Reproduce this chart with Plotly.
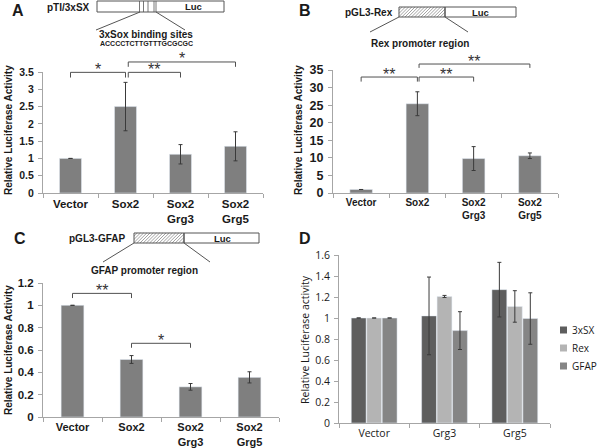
import plotly.graph_objects as go

W, H = 600, 448

# ---------------- data ----------------
cats_abc = ["Vector", "Sox2", "Sox2<br>Grg3", "Sox2<br>Grg5"]
a_vals = [1.0, 2.5, 1.12, 1.35]
a_err = [0.0, 0.70, 0.28, 0.42]
b_vals = [1.0, 25.4, 9.8, 10.6]
b_err = [0.0, 3.4, 3.4, 0.8]
c_vals = [1.0, 0.515, 0.27, 0.355]
c_err = [0.0, 0.035, 0.03, 0.05]

d_cats = ["Vector", "Grg3", "Grg5"]
d_names = ["3xSX", "Rex", "GFAP"]
d_3xsx = [1.0, 1.02, 1.27]
d_3xsx_err = [0.0, 0.37, 0.26]
d_rex = [1.0, 1.205, 1.11]
d_rex_err = [0.0, 0.01, 0.15]
d_gfap = [1.0, 0.88, 0.995]
d_gfap_err = [0.0, 0.18, 0.245]
d_colors = ["#5e5e5e", "#b4b4b4", "#858585"]

# significance brackets: (left cat, right cat, top, leg bottom, label)
a_brackets = [(0, 1, 3.49, 3.34, "*"), (1.05, 2, 3.49, 3.34, "**"),
              (1.05, 3, 3.79, 3.65, "*")]
b_brackets = [(0, 1, 33.0, 31.7, "**"), (1.03, 2, 33.0, 31.7, "**"),
              (1.03, 3, 36.7, 35.6, "**")]
c_brackets = [(0, 1, 1.107, 1.065, "**"), (1, 2, 0.66, 0.62, "*")]

BAR = "#7f7f7f"
AX = "#a6a6a6"
BOLD = dict(family="Liberation Sans", weight="bold", color="#1a1a1a")
CAL = dict(family="Open Sans", color="#1a1a1a")


def px(x):
    return x / W


def py(y):
    return 1 - y / H


fig = go.Figure()

err_style = dict(type="data", color="#3a3a3a", thickness=1, width=2)

fig.add_trace(go.Bar(x=cats_abc, y=a_vals, width=0.4, marker_color=BAR,
                     error_y=dict(array=a_err, **err_style), showlegend=False,
                     xaxis="x", yaxis="y"))
fig.add_trace(go.Bar(x=cats_abc, y=b_vals, width=0.4, marker_color=BAR,
                     error_y=dict(array=b_err, **err_style), showlegend=False,
                     xaxis="x2", yaxis="y2"))
fig.add_trace(go.Bar(x=cats_abc, y=c_vals, width=0.385, marker_color=BAR,
                     error_y=dict(array=c_err, **err_style), showlegend=False,
                     xaxis="x3", yaxis="y3"))
for name, vals, errs, col in zip(d_names, [d_3xsx, d_rex, d_gfap],
                                 [d_3xsx_err, d_rex_err, d_gfap_err], d_colors):
    fig.add_trace(go.Bar(x=d_cats, y=vals, name=name, marker_color=col,
                         error_y=dict(array=errs, **err_style), showlegend=False,
                         xaxis="x4", yaxis="y4"))


def xax(domain, anchor, font, n):
    return dict(domain=domain, anchor=anchor, type="category", range=[-0.5, n - 0.5],
                showline=True, linecolor=AX, linewidth=1, ticks="outside",
                tickson="boundaries", ticklen=4, tickcolor=AX, showgrid=False,
                tickfont=font, fixedrange=True, automargin=False)


def yax(domain, anchor, rng, dtick, font):
    return dict(domain=domain, anchor=anchor, range=rng, dtick=dtick, showline=True,
                linecolor=AX, linewidth=1, ticks="outside", ticklen=4, tickcolor=AX,
                showgrid=False, zeroline=False, tickfont=font, ticklabelstandoff=2,
                fixedrange=True, automargin=False)


yA = [py(193), py(72)]
yB = [py(193), py(70)]
yC = [py(417), py(283)]
yD = [py(423), py(255)]

fig.update_layout(
    width=W, height=H, margin=dict(l=0, r=0, t=0, b=0, autoexpand=False),
    paper_bgcolor="white", plot_bgcolor="white", showlegend=False,
    barmode="group", bargap=0.34, bargroupgap=0.04,
    xaxis=xax([px(43), px(263)], "y", dict(size=11.5, **BOLD), 4),
    yaxis=yax(yA, "x", [0, 3.5], 0.5, dict(size=10.5, **BOLD)),
    xaxis2=xax([px(333), px(558)], "y2", dict(size=10, **BOLD), 4),
    yaxis2=yax(yB, "x2", [0, 35], 5, dict(size=12.5, **BOLD)),
    xaxis3=xax([px(43), px(279)], "y3", dict(size=11, **BOLD), 4),
    yaxis3=yax(yC, "x3", [0, 1.2], 0.2, dict(size=11.5, **BOLD)),
    xaxis4=xax([px(339), px(550)], "y4", dict(size=10.5, **CAL), 3),
    yaxis4=yax(yD, "x4", [0, 1.6], 0.2, dict(size=10.5, **CAL)),
)

shapes = []
annots = []

# brackets
for xr, yr, ymax, brs in [("x", "y domain", 3.5, a_brackets),
                          ("x2", "y2 domain", 35, b_brackets),
                          ("x3", "y3 domain", 1.2, c_brackets)]:
    for x0, x1, top, leg, lab in brs:
        ln = dict(color="#505050", width=1)
        shapes.append(dict(type="line", xref=xr, yref=yr, x0=x0, x1=x1,
                           y0=top / ymax, y1=top / ymax, line=ln))
        shapes.append(dict(type="line", xref=xr, yref=yr, x0=x0, x1=x0,
                           y0=top / ymax, y1=leg / ymax, line=ln))
        shapes.append(dict(type="line", xref=xr, yref=yr, x0=x1, x1=x1,
                           y0=top / ymax, y1=leg / ymax, line=ln))
        annots.append(dict(xref=xr, yref=yr, x=(x0 + x1) / 2, y=top / ymax,
                           text=lab, showarrow=False, yanchor="middle", yshift=3,
                           font=dict(family="Liberation Sans", size=16,
                                     color="#333333")))


def ptext(x, y, text, size, bold=True, family="Liberation Sans", angle=0,
          xanchor="center"):
    f = dict(family=family, size=size, color="#1a1a1a")
    if bold:
        f["weight"] = "bold"
    annots.append(dict(xref="paper", yref="paper", x=px(x), y=py(y), text=text,
                       showarrow=False, xanchor=xanchor, yanchor="middle",
                       font=f, textangle=angle))


def pline(x0, y0, x1, y1, color="#555555", width=1):
    shapes.append(dict(type="line", xref="paper", yref="paper", x0=px(x0), y0=py(y0),
                       x1=px(x1), y1=py(y1), line=dict(color=color, width=width)))


def prect(x0, y0, x1, y1, fill="rgba(0,0,0,0)", line="#555555", lw=1):
    shapes.append(dict(type="rect", xref="paper", yref="paper", x0=px(x0), y0=py(y0),
                       x1=px(x1), y1=py(y1), line=dict(color=line, width=lw),
                       fillcolor=fill))


def hatch(x0, y0, x1, y1, step=3.2):
    h = y1 - y0
    parts = []
    t = x0 - h
    while t < x1:
        xs, ys = t, y1
        xe, ye = t + h, y0
        if xs < x0:
            ys = y1 - (x0 - t)
            xs = x0
        if xe > x1:
            ye = y1 - (x1 - t)
            xe = x1
        if xe > xs:
            parts.append("M%.5f,%.5f L%.5f,%.5f" % (px(xs), py(ys), px(xe), py(ye)))
        t += step
    shapes.append(dict(type="path", xref="paper", yref="paper", path=" ".join(parts),
                       line=dict(color="#8a8a8a", width=0.8)))


# panel letters
ptext(18, 11, "A", 16)
ptext(305, 11, "B", 16)
ptext(20, 238, "C", 16)
ptext(305, 238, "D", 16)

# y titles
ptext(8, 130, "Relative Luciferase Activity", 10, angle=-90)
ptext(298, 130, "Relative Luciferase Activity", 10, angle=-90)
ptext(8, 350, "Relative Luciferase Activity", 10, angle=-90)
ptext(305, 340, "Relative Luciferase activity", 10.5, bold=False, family="Open Sans", angle=-90)

# legend for panel D
for i, (name, col) in enumerate(zip(d_names, d_colors)):
    yc = 330 + 18 * i
    prect(560, yc - 3.5, 567, yc + 3.5, fill=col, line=col, lw=0)
    ptext(570, yc, name, 10, bold=False, family="Open Sans", xanchor="left")

# schematic A
ptext(68, 7, "pTI/3xSX", 10)
prect(97, 1, 224, 12)
for xv in [139.5, 143.5, 148, 154, 156]:
    pline(xv, 1, xv, 12, width=0.8)
ptext(193, 6.5, "Luc", 9.5)
pline(140, 12, 96, 30)
pline(156, 12, 185, 30)
ptext(146, 34.5, "3xSox binding sites", 10)
ptext(146, 43.5, "ACCCCTCTTGTTTGCGCGC", 7)

# schematic B
ptext(369, 12, "pGL3-Rex", 10)
hatch(399, 7, 445, 17)
prect(399, 7, 445, 17)
prect(445, 7, 516, 17)
ptext(480, 12, "Luc", 9.5)
pline(399, 17, 370, 32)
pline(445, 17, 468, 32)
ptext(420, 43, "Rex promoter region", 10)

# schematic C
ptext(97, 238, "pGL3-GFAP", 10)
hatch(134, 233, 184, 243)
prect(134, 233, 184, 243)
prect(184, 233, 259, 243)
ptext(222, 238, "Luc", 9.5)
pline(134, 243, 103, 262)
pline(184, 243, 210, 262)
ptext(144, 270, "GFAP promoter region", 10)

fig.update_layout(shapes=shapes, annotations=annots)
fig.write_html("out.html", config=dict(displayModeBar=False, staticPlot=True),
               post_script="document.body.style.margin='0';document.body.style.padding='0';")
